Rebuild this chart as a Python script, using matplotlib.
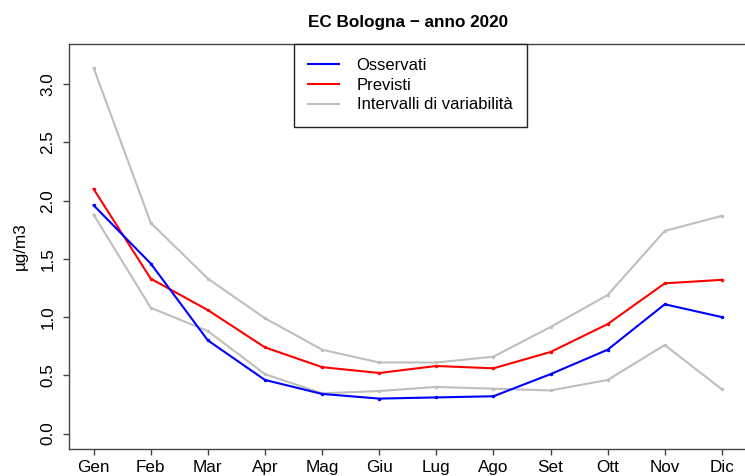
import matplotlib
matplotlib.use("Agg")
import matplotlib.pyplot as plt
from matplotlib.lines import Line2D

months = ["Gen", "Feb", "Mar", "Apr", "Mag", "Giu", "Lug", "Ago", "Set", "Ott", "Nov", "Dic"]
osservati = [1.96, 1.46, 0.80, 0.46, 0.34, 0.30, 0.31, 0.32, 0.51, 0.72, 1.11, 1.00]
previsti = [2.10, 1.33, 1.06, 0.74, 0.57, 0.52, 0.58, 0.56, 0.70, 0.94, 1.29, 1.32]
upper = [3.14, 1.81, 1.33, 0.99, 0.72, 0.61, 0.61, 0.66, 0.915, 1.19, 1.74, 1.87]
lower = [1.88, 1.08, 0.88, 0.51, 0.345, 0.365, 0.40, 0.385, 0.37, 0.46, 0.76, 0.38]
yticks = [0.0, 0.5, 1.0, 1.5, 2.0, 2.5, 3.0]
legend_labels = ["Osservati", "Previsti", "Intervalli di variabilità"]

plt.rcParams['font.family'] = ['Liberation Sans', 'DejaVu Sans']

W, H = 745, 476
fig = plt.figure(figsize=(W / 100, H / 100), dpi=100)
left, right, top, bottom = 68.5, 747, 43.5, 449
ax = fig.add_axes([left / W, (H - bottom) / H, (right - left) / W, (bottom - top) / H])

x = list(range(1, 13))
gray = "#BEBEBE"
ax.plot(x, upper, color=gray, lw=1.5, marker='o', ms=1.5)
ax.plot(x, lower, color=gray, lw=1.5, marker='o', ms=1.5)
ax.plot(x, previsti, color="red", lw=1.5, marker='o', ms=1.5)
ax.plot(x, osservati, color="blue", lw=1.5, marker='o', ms=1.5)

ax.set_xlim(0.56, 12.44)
ax.set_ylim(-0.133, 3.35)
ax.set_xticks(x)
ax.set_xticklabels(months, fontsize=12.3)
ax.set_yticks(yticks)
ax.set_yticklabels([f"{v:.1f}" for v in yticks], fontsize=12.3, rotation=90, va='center')
ax.tick_params(direction='out', length=4.3, width=1, color='#444444')
ax.tick_params(axis='x', pad=3.5)
ax.tick_params(axis='y', pad=5)
for s in ax.spines.values():
    s.set_color('#444444')
    s.set_linewidth(1)

ax.set_ylabel("µg/m3", fontsize=12.3, labelpad=9)
fig.text(408 / W, 1 - 22 / H, "EC Bologna − anno 2020", ha='center', va='center',
         fontsize=12.3, fontweight='bold')

handles = [Line2D([], [], color="blue", lw=1.5),
           Line2D([], [], color="red", lw=1.5),
           Line2D([], [], color=gray, lw=1.5)]
leg = ax.legend(handles, legend_labels,
                loc='upper left', bbox_to_anchor=((294 - left) / (right - left), 1.0),
                fontsize=12, frameon=True, fancybox=False, framealpha=1,
                edgecolor='#222222', borderpad=0.85, handlelength=1.86,
                handletextpad=1.05, labelspacing=0.29, borderaxespad=0)
leg.get_frame().set_linewidth(1)

fig.savefig("out.png", dpi=100)
